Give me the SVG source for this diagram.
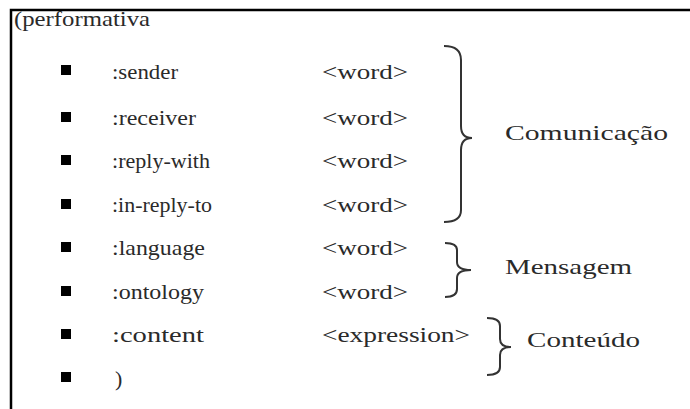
<svg xmlns="http://www.w3.org/2000/svg" width="690" height="409" viewBox="0 0 690 409">
<style>
text{font-family:'Liberation Serif',serif;font-size:22px;fill:#2a2a2a}
.b{fill:#000}
.br{fill:none;stroke:#333;stroke-width:2}
.frame{stroke:#000;stroke-width:2.5;fill:none}
</style>
<rect width="690" height="409" fill="#fff"/>
<path class="frame" d="M11,409 V10 H690"/>
<text x="14" y="26" font-family="Liberation Serif, serif" textLength="136" lengthAdjust="spacingAndGlyphs">(performativa</text>
<g id="sender"><rect class="b" x="61" y="65" width="10" height="10"/><text x="112" y="79" textLength="66" lengthAdjust="spacingAndGlyphs">:sender</text><text x="322" y="79" textLength="86" lengthAdjust="spacingAndGlyphs">&lt;word&gt;</text></g>
<g id="receiver"><rect class="b" x="61" y="112" width="10" height="10"/><text x="112" y="125" textLength="84" lengthAdjust="spacingAndGlyphs">:receiver</text><text x="322" y="125" textLength="86" lengthAdjust="spacingAndGlyphs">&lt;word&gt;</text></g>
<g id="reply-with"><rect class="b" x="61" y="155" width="10" height="10"/><text x="112" y="168" textLength="98" lengthAdjust="spacingAndGlyphs">:reply-with</text><text x="322" y="168" textLength="86" lengthAdjust="spacingAndGlyphs">&lt;word&gt;</text></g>
<g id="in-reply-to"><rect class="b" x="61" y="199" width="10" height="10"/><text x="112" y="212" textLength="100" lengthAdjust="spacingAndGlyphs">:in-reply-to</text><text x="322" y="212" textLength="86" lengthAdjust="spacingAndGlyphs">&lt;word&gt;</text></g>
<g id="language"><rect class="b" x="61" y="242" width="10" height="10"/><text x="112" y="255" textLength="93" lengthAdjust="spacingAndGlyphs">:language</text><text x="322" y="255" textLength="86" lengthAdjust="spacingAndGlyphs">&lt;word&gt;</text></g>
<g id="ontology"><rect class="b" x="61" y="286" width="10" height="10"/><text x="112" y="299" textLength="92" lengthAdjust="spacingAndGlyphs">:ontology</text><text x="322" y="299" textLength="86" lengthAdjust="spacingAndGlyphs">&lt;word&gt;</text></g>
<g id="content"><rect class="b" x="61" y="329" width="10" height="10"/><text x="112" y="342" textLength="92" lengthAdjust="spacingAndGlyphs">:content</text><text x="322" y="342" textLength="148" lengthAdjust="spacingAndGlyphs">&lt;expression&gt;</text></g>
<g id="close"><rect class="b" x="61" y="372" width="10" height="10"/><text x="115" y="386">)</text></g>
<g id="braces">
<path class="br" d="M444,46 Q461,46 461,60 V126 Q461,138 472,138 Q461,138 461,150 V210 Q461,222 444,222"/>
<path class="br" d="M445,243 Q457,243 457,250 V262 Q457,270 471,270 Q457,270 457,278 V289 Q457,297 445,297"/>
<path class="br" d="M487,318 Q500,318 500,326 V339 Q500,347 511,347 Q500,347 500,355 V367 Q500,375 487,375"/>
</g>
<g id="comunicacao"><text x="505" y="140" textLength="163" lengthAdjust="spacingAndGlyphs">Comunicação</text></g>
<g id="mensagem"><text x="505" y="274" textLength="127" lengthAdjust="spacingAndGlyphs">Mensagem</text></g>
<g id="conteudo"><text x="527" y="347" textLength="113" lengthAdjust="spacingAndGlyphs">Conteúdo</text></g>
</svg>
